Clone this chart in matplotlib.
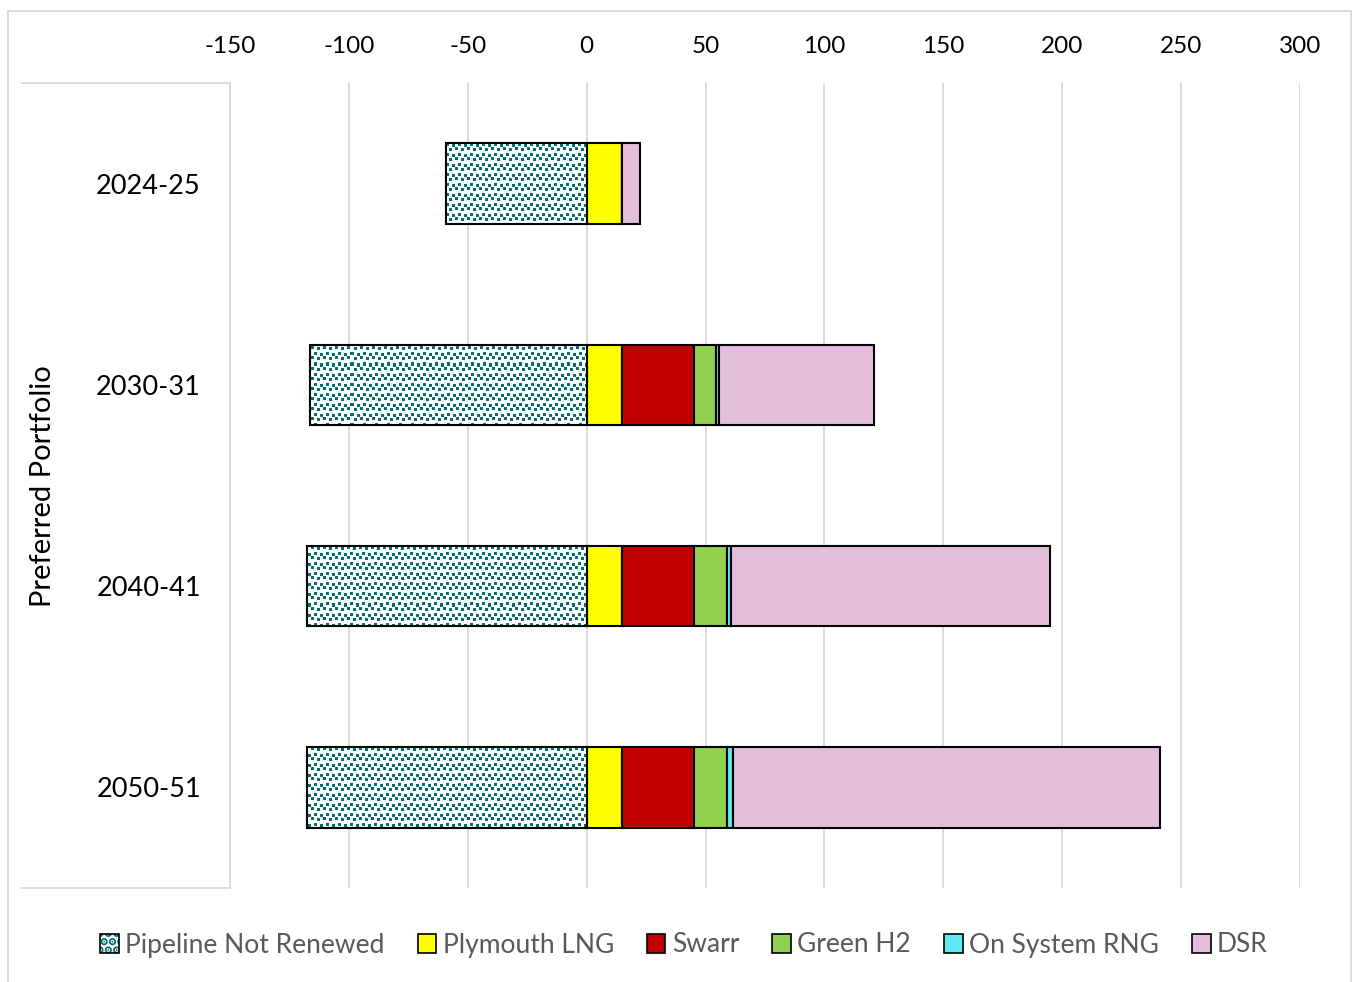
import matplotlib.pyplot as plt
import matplotlib.patches as mpatches
from matplotlib.legend_handler import HandlerTuple
from matplotlib.colors import to_rgba
import numpy as np

plt.rcParams['font.family'] = ['Lato', 'DejaVu Sans']
plt.rcParams['hatch.linewidth'] = 3.9
plt.rcParams['axes.unicode_minus'] = False

periods = ['2024-25', '2030-31', '2040-41', '2050-51']
pipeline = [-59, -116.5, -117.6, -117.6]
plymouth = [15, 15, 15, 15]
swarr = [0, 30, 30, 30]
green_h2 = [0, 9.3, 14, 14]
rng = [0, 1.2, 1.8, 2.6]
dsr = [7.4, 65.5, 134.2, 179.6]

series = [('Plymouth LNG', plymouth, '#FFFF00'),
          ('Swarr', swarr, '#C00000'),
          ('Green H2', green_h2, '#92D050'),
          ('On System RNG', rng, '#5EE9F5'),
          ('DSR', dsr, '#E4BCDC')]
teal = '#006F6F'

W, H = 1354, 982
ax_w, ax_h = 1300 - 230, 888 - 83
fig = plt.figure(figsize=(W / 100, H / 100), dpi=100)
ax = fig.add_axes([230 / W, 1 - 888 / H, ax_w / W, ax_h / H])

y = np.arange(len(periods))
h = 0.4

# confetti texture (Excel "small confetti" look), one screen pixel per cell
tile = np.zeros((10, 12))
for r, c in [(0, 0), (1, 6), (5, 3), (4, 9)]:
    tile[r:r + 3, c:c + 3] = 1
mask = np.tile(tile, (ax_h // 10 + 1, ax_w // 12 + 1))[:ax_h, :ax_w]
tex = np.where(mask[..., None] > 0, to_rgba(teal), to_rgba('white'))

# pipeline not renewed: textured bar + black outline
bars = ax.barh(y, pipeline, height=h, color='white', linewidth=0, zorder=3)
for b in bars:
    im = ax.imshow(tex, extent=(0, 1, 0, 1), transform=ax.transAxes, aspect='auto',
                   interpolation='nearest', zorder=3.5)
    im.set_clip_path(b)
ax.barh(y, pipeline, height=h, color='none', edgecolor='black', linewidth=1.5, zorder=4)

left = np.zeros(len(periods))
for name, vals, col in series:
    vals = np.array(vals, dtype=float)
    ax.barh(y, vals, height=h, left=left, color=col, edgecolor='black', linewidth=1.5, zorder=3)
    left += vals

ax.set_xlim(-150, 300)
ax.set_ylim(3.5, -0.5)
ax.set_xticks(np.arange(-150, 301, 50))
ax.xaxis.tick_top()
ax.tick_params(axis='x', length=0, labelsize=17.5, pad=19, colors='black')
ax.set_yticks(y)
ax.set_yticklabels(periods, fontsize=19.5)
ax.tick_params(axis='y', length=0, pad=21)
ax.grid(axis='x', color='#D9D9D9', linewidth=1.3, zorder=0)
ax.set_axisbelow(True)
for s in ['top', 'right', 'bottom']:
    ax.spines[s].set_visible(False)
ax.spines['left'].set_color('#D9D9D9')
ax.spines['left'].set_linewidth(1.3)

# multi-level category box lines
fig.add_artist(plt.Line2D([22 / W, 230 / W], [1 - 83 / H, 1 - 83 / H], color='#D9D9D9', lw=1.3))
fig.add_artist(plt.Line2D([22 / W, 230 / W], [1 - 888 / H, 1 - 888 / H], color='#D9D9D9', lw=1.3))
fig.text(43 / W, 1 - 486 / H, 'Preferred Portfolio', rotation=90, fontsize=21,
         ha='center', va='center')

# outer chart border
fig.add_artist(mpatches.Rectangle((8 / W, -0.02), (1351 - 8) / W, 1.02 - 11 / H,
                                  transform=fig.transFigure, fill=False,
                                  edgecolor='#D9D9D9', lw=1.3))

pipe_fill = mpatches.Patch(facecolor='white', edgecolor=teal, hatch='..', linewidth=0)
pipe_edge = mpatches.Patch(facecolor='none', edgecolor='black', linewidth=1.2)
handles = [(pipe_fill, pipe_edge)]
labels = ['Pipeline Not Renewed']
for name, vals, col in series:
    handles.append(mpatches.Patch(facecolor=col, edgecolor='black', linewidth=1.2))
    labels.append(name)
leg = fig.legend(handles, labels, loc='center', bbox_to_anchor=(684 / W, 1 - 945 / H),
                 ncol=6, frameon=False, fontsize=19, handlelength=0.7, handleheight=0.7,
                 handletextpad=0.25, columnspacing=1.25, labelcolor='#595959',
                 handler_map={tuple: HandlerTuple(ndivide=1, pad=0)})

fig.savefig('out.png', dpi=100)
